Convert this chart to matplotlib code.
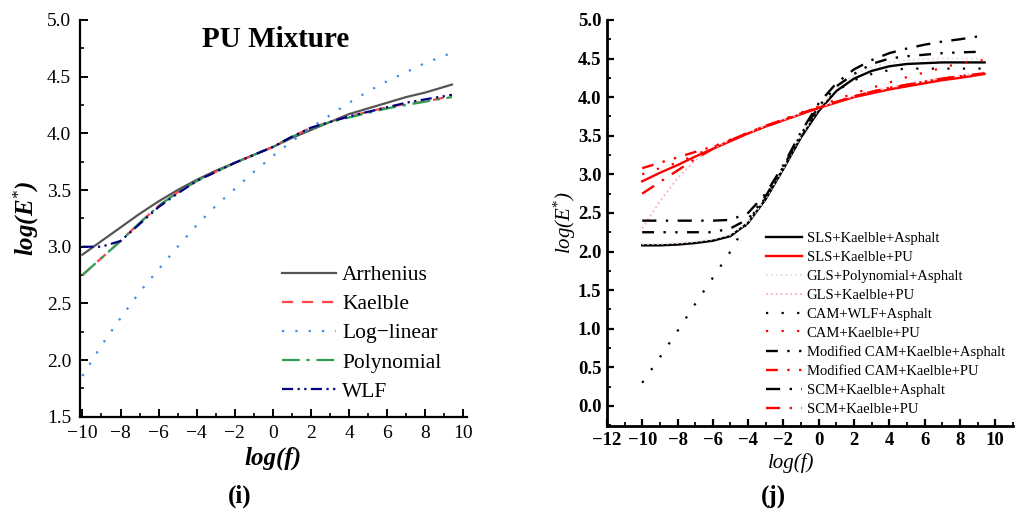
import numpy as np
import matplotlib
matplotlib.use("Agg")
import matplotlib.pyplot as plt
from matplotlib.ticker import MultipleLocator

plt.rcParams['font.family'] = ['Liberation Serif', 'DejaVu Serif']
plt.rcParams['mathtext.fontset'] = 'custom'
plt.rcParams['mathtext.rm'] = 'Liberation Serif'
plt.rcParams['mathtext.it'] = 'Liberation Serif:italic:bold'
plt.rcParams['mathtext.bf'] = 'Liberation Serif:bold'

# ---- panel (i): PU mixture, shift factor models ----
x_i = [-10, -9, -8, -7, -6, -5, -4, -3, -2, -1, 0, 1, 2, 3, 4, 5, 6, 7, 8, 9.4]
arrhenius = [2.93, 3.05, 3.17, 3.29, 3.40, 3.50, 3.59, 3.67, 3.74, 3.81, 3.88, 3.96, 4.03, 4.10, 4.17, 4.22, 4.27, 4.32, 4.36, 4.43]
kaelble = [2.75, 2.90, 3.05, 3.21, 3.36, 3.48, 3.58, 3.66, 3.74, 3.81, 3.88, 3.97, 4.05, 4.10, 4.15, 4.19, 4.23, 4.26, 4.28, 4.33]
loglinear = [1.86, 2.13, 2.37, 2.60, 2.80, 3.00, 3.19, 3.36, 3.51, 3.66, 3.80, 3.93, 4.05, 4.16, 4.27, 4.37, 4.46, 4.54, 4.62, 4.71]
polynomial = [2.75, 2.90, 3.05, 3.21, 3.36, 3.48, 3.58, 3.66, 3.74, 3.81, 3.88, 3.97, 4.04, 4.10, 4.14, 4.18, 4.22, 4.25, 4.28, 4.32]
wlf = [3.00, 3.00, 3.05, 3.20, 3.35, 3.47, 3.58, 3.66, 3.74, 3.81, 3.88, 3.97, 4.05, 4.10, 4.15, 4.19, 4.23, 4.27, 4.30, 4.34]

# ---- panel (j): master curve models, asphalt vs PU ----
x_j = [-10, -9, -8, -7, -6, -5, -4, -3, -2, -1, 0, 1, 2, 3, 4, 5, 6, 7, 8, 9.4]
sls_asp = [2.08, 2.08, 2.09, 2.11, 2.14, 2.20, 2.37, 2.68, 3.07, 3.48, 3.82, 4.08, 4.24, 4.34, 4.40, 4.43, 4.44, 4.45, 4.45, 4.45]
sls_pu = [2.91, 3.02, 3.12, 3.23, 3.33, 3.43, 3.53, 3.62, 3.70, 3.78, 3.86, 3.93, 4.00, 4.05, 4.10, 4.14, 4.18, 4.22, 4.25, 4.30]
gls_asp = [2.10, 2.10, 2.11, 2.13, 2.16, 2.22, 2.38, 2.69, 3.08, 3.50, 3.85, 4.12, 4.29, 4.39, 4.45, 4.48, 4.49, 4.50, 4.50, 4.50]
gls_pu = [2.30, 2.65, 2.95, 3.18, 3.33, 3.45, 3.54, 3.63, 3.71, 3.79, 3.87, 3.94, 4.01, 4.07, 4.12, 4.17, 4.21, 4.25, 4.28, 4.32]
cam_asp = [0.30, 0.63, 0.97, 1.32, 1.66, 2.00, 2.40, 2.70, 3.08, 3.48, 3.84, 4.08, 4.22, 4.30, 4.35, 4.37, 4.37, 4.37, 4.37, 4.37]
cam_pu = [3.00, 3.08, 3.15, 3.25, 3.35, 3.45, 3.54, 3.63, 3.71, 3.80, 3.88, 3.97, 4.05, 4.12, 4.19, 4.26, 4.32, 4.38, 4.44, 4.48]
mcam_asp = [2.25, 2.25, 2.25, 2.25, 2.25, 2.30, 2.42, 2.72, 3.10, 3.52, 3.88, 4.14, 4.30, 4.43, 4.50, 4.53, 4.55, 4.57, 4.58, 4.59]
mcam_pu = [3.08, 3.15, 3.22, 3.29, 3.36, 3.44, 3.53, 3.62, 3.70, 3.78, 3.86, 3.94, 4.01, 4.07, 4.12, 4.16, 4.20, 4.24, 4.27, 4.31]
scm_asp = [2.40, 2.40, 2.40, 2.40, 2.40, 2.41, 2.50, 2.75, 3.12, 3.55, 3.92, 4.18, 4.36, 4.48, 4.57, 4.63, 4.68, 4.72, 4.75, 4.80]
scm_pu = [2.75, 2.90, 3.05, 3.20, 3.33, 3.44, 3.54, 3.63, 3.71, 3.79, 3.87, 3.94, 4.01, 4.07, 4.12, 4.16, 4.20, 4.24, 4.27, 4.31]

fig = plt.figure(figsize=(10.2, 5.12), dpi=100)

# ---------- left panel ----------
ax1 = fig.add_axes([0.078, 0.186, 0.380, 0.775])
ax1.plot(x_i, arrhenius, color='#555555', lw=1.6, ls='-', label='Arrhenius')
ax1.plot(x_i, kaelble, color='#ff4545', lw=1.6, ls=(0, (5, 4)), label='Kaelble')
ax1.plot(x_i, loglinear, color='#3d8ee8', lw=1.6, ls=(0, (1, 5)), label='Log\u2212linear')
ax1.plot(x_i, polynomial, color='#2ca050', lw=1.6, ls=(0, (8, 3, 1.5, 3)), label='Polynomial')
ax1.plot(x_i, wlf, color='#000080', lw=1.6, ls=(0, (5, 2, 1, 2, 1, 2)), label='WLF')
ax1.set_xlim(-10.15, 10.2)
ax1.set_ylim(1.5, 5.0)
ax1.xaxis.set_minor_locator(MultipleLocator(1))
ax1.yaxis.set_major_locator(MultipleLocator(0.5))
ax1.yaxis.set_minor_locator(MultipleLocator(0.25))
ax1.set_xticks(range(-10, 11, 2))
ax1.set_xticklabels(['\u221210', '\u22128', '\u22126', '\u22124', '\u22122', '0', '2', '4', '6', '8', '10'])
for s in ['top', 'right']:
    ax1.spines[s].set_visible(False)
for s in ['left', 'bottom']:
    ax1.spines[s].set_linewidth(1.6)
ax1.tick_params(which='major', direction='in', length=6, width=1.4, labelsize=14, pad=6)
ax1.tick_params(which='minor', direction='in', length=3, width=1.2)
ax1.text(0.505, 0.95, 'PU Mixture', transform=ax1.transAxes, ha='center', va='center',
         fontsize=21, fontweight='bold')
ax1.set_ylabel('log(E$^{*}$)', fontsize=18, fontweight='bold', fontstyle='italic', labelpad=4)
ax1.set_xlabel('log(f)', fontsize=18, fontweight='bold', fontstyle='italic', labelpad=3)
ax1.legend(loc='upper left', bbox_to_anchor=(0.522, 0.382), frameon=False, fontsize=15.5,
           borderpad=0, borderaxespad=0,
           handlelength=2.5, labelspacing=0.42, handletextpad=0.3)

# ---------- right panel ----------
ax2 = fig.add_axes([0.595, 0.168, 0.398, 0.793])
ax2.plot(x_j, sls_asp, color='black', lw=1.7, ls='-', label='SLS+Kaelble+Asphalt')
ax2.plot(x_j, sls_pu, color='red', lw=1.7, ls='-', label='SLS+Kaelble+PU')
ax2.plot(x_j, gls_asp, color='#f2dede', lw=1.4, ls=(0, (1, 1.5)), label='GLS+Polynomial+Asphalt')
ax2.plot(x_j, gls_pu, color='#ffb8c0', lw=1.4, ls=(0, (1, 1.5)), label='GLS+Kaelble+PU')
ax2.plot(x_j, cam_asp, color='black', lw=1.6, ls=(0, (1, 6)), label='CAM+WLF+Asphalt')
ax2.plot(x_j, cam_pu, color='red', lw=1.6, ls=(0, (1, 6)), label='CAM+Kaelble+PU')
ax2.plot(x_j, mcam_asp, color='black', lw=1.7, ls=(0, (5, 4, 1, 4, 1, 4)), label='Modified CAM+Kaelble+Asphalt')
ax2.plot(x_j, mcam_pu, color='red', lw=1.7, ls=(0, (5, 4, 1, 4, 1, 4)), label='Modified CAM+Kaelble+PU')
ax2.plot(x_j, scm_asp, color='black', lw=1.7, ls=(0, (6, 4, 1, 4)), label='SCM+Kaelble+Asphalt')
ax2.plot(x_j, scm_pu, color='red', lw=1.7, ls=(0, (6, 4, 1, 4)), label='SCM+Kaelble+PU')
ax2.set_xlim(-12, 11.0)
ax2.set_ylim(-0.26, 5.0)
ax2.set_xticks(range(-12, 11, 2))
ax2.set_xticklabels(['\u221212', '\u221210', '\u22128', '\u22126', '\u22124', '\u22122', '0', '2', '4', '6', '8', '10'])
ax2.xaxis.set_minor_locator(MultipleLocator(1))
ax2.set_yticks(np.arange(0, 5.01, 0.5))
ax2.yaxis.set_minor_locator(MultipleLocator(0.25))
for s in ['top', 'right']:
    ax2.spines[s].set_visible(False)
for s in ['left', 'bottom']:
    ax2.spines[s].set_linewidth(2.0)
ax2.tick_params(which='major', direction='in', length=5, width=1.6, labelsize=13.5, pad=4)
ax2.tick_params(which='minor', direction='in', length=3, width=1.3)
for lab in ax2.get_xticklabels() + ax2.get_yticklabels():
    lab.set_fontweight('bold')
plt.rcParams['mathtext.it'] = 'Liberation Serif:italic'
ax2.set_ylabel('log(E$^{*}$)', fontsize=15, fontstyle='italic', labelpad=0)
ax2.set_xlabel('log(f)', fontsize=15, fontstyle='italic', labelpad=2)
ax2.xaxis.set_label_coords(0.455, -0.066)
ax2.legend(loc='upper left', bbox_to_anchor=(0.392, 0.478), frameon=False, fontsize=10.5,
           borderpad=0, borderaxespad=0,
           handlelength=2.5, labelspacing=0.39, handletextpad=0.3)

fig.text(0.235, 0.03, '(i)', ha='center', va='center', fontsize=18, fontweight='bold')
fig.text(0.758, 0.03, '(j)', ha='center', va='center', fontsize=18, fontweight='bold')

fig.savefig('out.png', dpi=100)
